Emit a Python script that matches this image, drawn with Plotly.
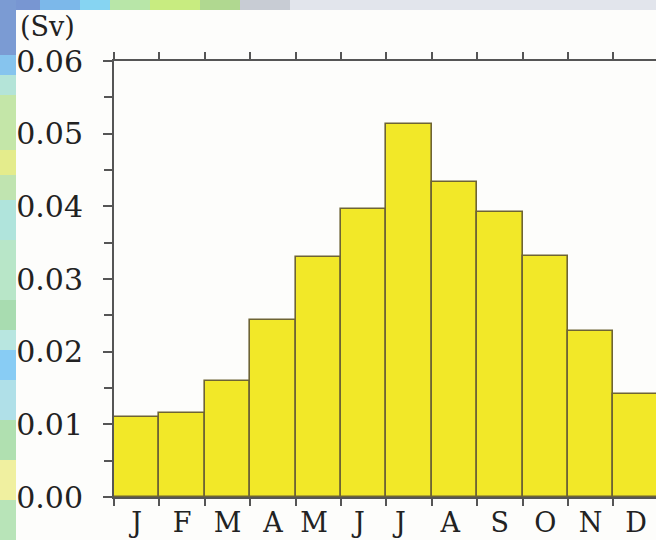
import plotly.graph_objects as go

months = ["J", "F", "M", "A", "M ", "J ", "J  ", "A ", "S", "O", "N", "D"]
transport_sv = [0.0110, 0.0116, 0.0160, 0.0243, 0.0330, 0.0397,
                0.0513, 0.0433, 0.0392, 0.0332, 0.0229, 0.0142]
ytick_vals = [0.00, 0.01, 0.02, 0.03, 0.04, 0.05, 0.06]
ytick_text = ["0.00", "0.01", "0.02", "0.03", "0.04", "0.05", "0.06"]

W, H = 656, 540
L, R, T, B = 114, 0, 61, 43
PW, PH = W - L - R, H - T - B


def px_x(px):
    return (px - L) / PW


def px_y(py):
    return 1 - (py - T) / PH


shapes = []
# white panel
shapes.append(dict(type="rect", xref="paper", yref="paper", layer="below",
                   x0=px_x(16), x1=px_x(W + 5), y0=px_y(H + 5), y1=px_y(10),
                   fillcolor="#fdfdfb", line=dict(width=0)))
# decorative top strip
top_strip = [(0, 40, "#7896d2"), (40, 80, "#7cb8ea"), (80, 110, "#86d4f2"),
             (110, 150, "#b8e6a8"), (150, 200, "#c8ec80"), (200, 240, "#b0d890"),
             (240, 290, "#c8ccd4"), (290, W + 5, "#e2e5ec")]
for a, b, c in top_strip:
    shapes.append(dict(type="rect", xref="paper", yref="paper", layer="below",
                       x0=px_x(a), x1=px_x(b), y0=px_y(10), y1=px_y(-2),
                       fillcolor=c, line=dict(width=0)))
left_strip = [(0, 55, "#7b9bd3"), (55, 75, "#86c4ee"), (75, 95, "#b4e4d8"),
              (95, 150, "#c4e6a8"), (150, 175, "#e4ec8c"), (175, 200, "#c0e4b0"),
              (200, 240, "#b0e4dc"), (240, 300, "#b8e6c8"), (300, 330, "#a8dcb0"),
              (330, 350, "#b8e6e0"), (350, 380, "#88ccf4"), (380, 420, "#b0e0e8"),
              (420, 460, "#b0e0b0"), (460, 500, "#f0f0a0"), (500, H + 5, "#b8e4b8")]
for a, b, c in left_strip:
    shapes.append(dict(type="rect", xref="paper", yref="paper", layer="below",
                       x0=px_x(-2), x1=px_x(16), y0=px_y(b), y1=px_y(a),
                       fillcolor=c, line=dict(width=0)))
# left axis overshoot above top line
shapes.append(dict(type="line", xref="paper", yref="paper",
                   x0=0, x1=0, y0=1, y1=px_y(52),
                   line=dict(color="#555555", width=2)))

fig = go.Figure(go.Bar(
    x=months, y=transport_sv,
    marker=dict(color="#f2e828", line=dict(color="#6e6434", width=1.6)),
))

font = "DejaVu Serif, Liberation Serif, serif"
fig.update_layout(
    width=W, height=H,
    margin=dict(l=L, r=R, t=T, b=B, pad=0),
    paper_bgcolor="#e2e5ec",
    plot_bgcolor="rgba(0,0,0,0)",
    bargap=0,
    showlegend=False,
    shapes=shapes,
    font=dict(family=font, color="#222222"),
    annotations=[dict(text="(Sv)", xref="paper", yref="paper",
                      x=px_x(18), y=px_y(27), xanchor="left", yanchor="middle",
                      showarrow=False, font=dict(size=27, family=font, color="#222222"))],
    xaxis=dict(
        type="category", range=[-0.5, 11.44],
        showline=True, linecolor="#555555", linewidth=2, mirror="ticks",
        ticks="outside", tickson="boundaries", ticklen=7, tickwidth=1.5,
        tickcolor="#555555", showgrid=False, zeroline=False, tickangle=0,
        tickfont=dict(size=27, family=font, color="#222222"),
        automargin=False, ticklabelstandoff=1,
    ),
    yaxis=dict(
        range=[0, 0.06], tickvals=ytick_vals, ticktext=ytick_text,
        showline=True, linecolor="#555555", linewidth=2,
        ticks="outside", ticklen=9, tickwidth=1.5, tickcolor="#555555",
        minor=dict(dtick=0.005, ticks="outside", ticklen=8, tickcolor="#555555", tickwidth=1.5),
        showgrid=False, zeroline=False,
        tickfont=dict(size=30, family=font, color="#222222"),
        automargin=False, ticklabelstandoff=14,
    ),
)

fig.write_html("out.html")
